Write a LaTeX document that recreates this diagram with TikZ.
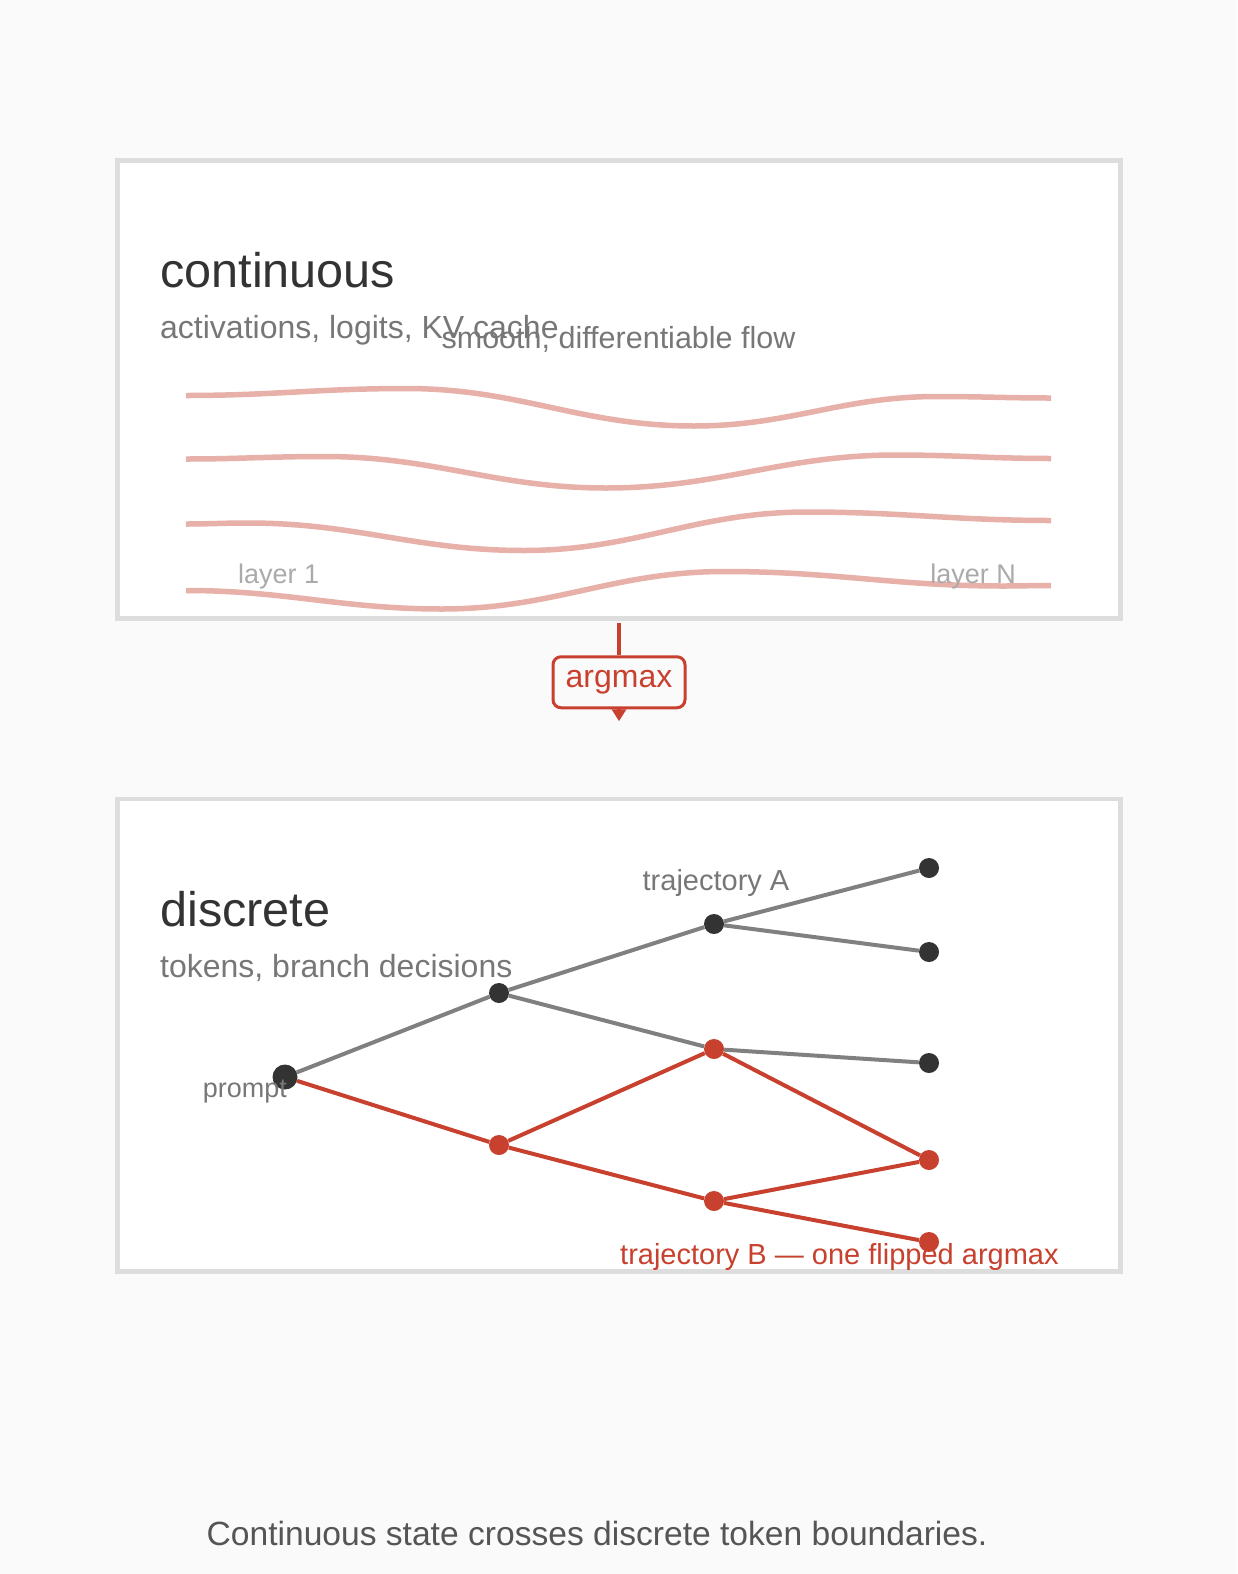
\documentclass[tikz,border=0pt]{standalone}
\usepackage{fontspec}
\setmainfont{Liberation Sans}
\usetikzlibrary{arrows.meta, positioning}

\definecolor{bg}{HTML}{FAFAFA}
\definecolor{frame}{HTML}{DDDDDD}
\definecolor{ink}{HTML}{333333}
\definecolor{muted}{HTML}{777777}
\definecolor{faint}{HTML}{AAAAAA}
\definecolor{edgegray}{HTML}{808080}
\definecolor{captext}{HTML}{555555}
\definecolor{accent}{RGB}{200,64,46}
\definecolor{wave}{RGB}{231,176,168}

\begin{document}
\begin{tikzpicture}[
			x=1pt, y=-1pt,
			>=Latex,
			panel/.style={draw=frame, fill=white, line width=4.5pt, rectangle, minimum width=1003pt, inner sep=0pt},
			title/.style={anchor=base west, inner sep=0pt, text=ink, font=\fontsize{48.6}{58}\selectfont},
			subtitle/.style={anchor=base west, inner sep=0pt, text=muted, font=\fontsize{32}{38}\selectfont},
			note/.style={inner sep=0pt, text=muted, font=\fontsize{29}{34}\selectfont},
			layerlabel/.style={inner sep=0pt, text=faint, font=\fontsize{27}{32}\selectfont},
			flow/.style={draw=wave, line width=5.5pt},
			tag/.style={draw=accent, fill=bg, text=accent, line width=3pt, rounded corners=8pt, minimum width=132pt, minimum height=51pt, inner sep=0pt, font=\fontsize{32}{38}\selectfont},
			stem/.style={draw=accent, line width=4pt},
			dot/.style={circle, fill=ink, minimum size=20pt, inner sep=0pt},
			hot/.style={dot, fill=accent},
			branch/.style={draw=edgegray, line width=4pt},
			flip/.style={draw=accent, line width=4pt}
			]
			% --- Tlo i ramki ---
			\fill[bg] (0,0) rectangle (1237,1574);
			\useasboundingbox (0,0) rectangle (1237,1574);
			\node[panel, minimum height=458pt] (cont) at (619,389.5) {}; % Panel ciagly
			\node[panel, minimum height=472.5pt] (disc) at (619,1035.25) {}; % Panel dyskretny
			
			% --- Panel ciagly ---
			\node[title] (conttitle) at (160,287.7) {continuous};
			\node[subtitle] (contsub) at (160,338.5) {activations, logits, KV cache};
			\draw[flow] (186,395.5) to[out=0,in=180] (406,388.5) to[out=0,in=180] (694,426) to[out=0,in=180] (937,396.5) to[out=0,in=180] (1051,398);
			\draw[flow] (186,459) to[out=0,in=180] (324,456.5) to[out=0,in=180] (606,488) to[out=0,in=180] (896,455) to[out=0,in=180] (1051,458.5);
			\draw[flow] (186,524) to[out=0,in=180] (248,523) to[out=0,in=180] (524,550.5) to[out=0,in=180] (807,512) to[out=0,in=180] (1051,520.5);
			\draw[flow] (186,590.5) to[out=0,in=180] (442,609) to[out=0,in=180] (725,571.5) to[out=0,in=180] (1003,586) to[out=0,in=180] (1051,585.5);
			\node[note, anchor=base, font=\fontsize{30.5}{36}\selectfont] (flowlabel) at (618.5,348) {smooth, differentiable flow};
			\node[layerlabel, anchor=base west] (firstlayer) at (238,583) {layer 1};
			\node[layerlabel, anchor=base east] (lastlayer) at (1016,583) {layer N};
			
			% --- Przejscie argmax ---
			\node[tag, below=34.5pt of cont] (argmax) {argmax};
			\coordinate[below=12pt of argmax.south] (tip);
			\draw[stem, shorten <=2pt] (cont.south) -- (argmax.north);
			\draw[stem, -{Triangle[width=14pt, length=12pt]}] (argmax.south) -- (tip);
			
			% --- Panel dyskretny ---
			\node[title] (disctitle) at (160,926) {discrete};
			\node[subtitle] (discsub) at (160,977.7) {tokens, branch decisions};
			
			% Wezly drzewa
			\node[dot, minimum size=25pt] (prompt) at (285,1077) {};
			\node[dot] (t1) at (499,993) {};
			\node[dot] (a) at (714,924) {};
			\node[dot] (a1) at (929,868) {};
			\node[dot] (a2) at (929,952) {};
			\node[hot] (m) at (714,1049) {};
			\node[dot] (m1) at (929,1063) {};
			\node[hot] (b) at (499,1145) {};
			\node[hot] (b2) at (714,1201) {};
			\node[hot] (r1) at (929,1160) {};
			\node[hot] (r2) at (929,1242) {};
			
			% Galezie: trajektoria A (szara) i B (czerwona)
			\draw[branch] (prompt) -- (t1);
			\draw[branch] (t1) -- (a);
			\draw[branch] (a) -- (a1);
			\draw[branch] (a) -- (a2);
			\draw[branch] (t1) -- (m);
			\draw[branch] (m) -- (m1);
			\draw[flip] (prompt) -- (b);
			\draw[flip] (b) -- (m);
			\draw[flip] (b) -- (b2);
			\draw[flip] (m) -- (r1);
			\draw[flip] (b2) -- (r1);
			\draw[flip] (b2) -- (r2);
			
			% Etykiety drzewa
			\node[note, anchor=base east, font=\fontsize{27}{32}\selectfont] (promptlabel) at (287,1097) {prompt};
			\node[note, anchor=base] (trajA) at (716,890) {trajectory A};
			\node[note, anchor=base west, text=accent] (trajB) at (620,1264) {trajectory B — one flipped argmax};
			
			% --- Podpis ---
			\node[inner sep=0pt, anchor=base, text=captext, font=\fontsize{33.6}{40}\selectfont] (caption) at (597,1545) {Continuous state crosses discrete token boundaries.};
			
		\end{tikzpicture}
\end{document}
